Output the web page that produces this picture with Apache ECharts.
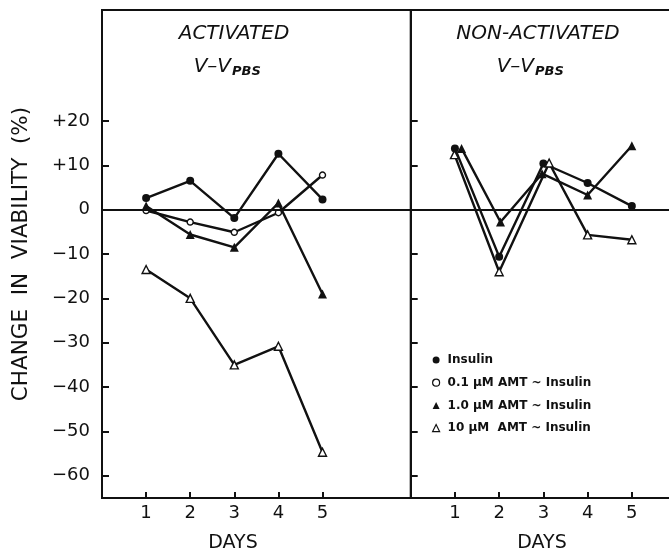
<!DOCTYPE html>
<html>
<head>
<meta charset="utf-8">
<script src="https://cdn.jsdelivr.net/npm/echarts@6/dist/echarts.min.js"></script>
<style>
html,body{margin:0;padding:0;background:#fff;}
#chart{width:669px;height:553px;}
</style>
</head>
<body>
<div id="chart"></div>
<script>
// ---- data ----
var seriesNames = ['Insulin', '0.1 \u03bcM AMT ~ Insulin', '1.0 \u03bcM AMT ~ Insulin', '10 \u03bcM  AMT ~ Insulin'];
var dayTicks = [1, 2, 3, 4, 5];
var yTicks = [-60, -50, -40, -30, -20, -10, 0, 10, 20];

// Activated panel
var actDays = [1, 2, 3, 4, 5];
var actInsulin = [2.6, 6.5, -1.9, 12.6, 2.3];
var actAmt01 = [-0.2, -2.8, -5.1, -0.7, 7.8];
var actAmt1 = [0.8, -5.6, -8.5, 1.5, -19.0];
var actAmt10 = [-13.5, -20.0, -35.0, -30.8, -54.7];

// Non-activated panel
var nonDaysInsulin = [1, 2, 3, 4, 5];
var nonInsulin = [13.8, -10.6, 10.4, 6.0, 0.8];
var nonDaysAmt1 = [1.15, 2.03, 2.97, 4, 5];
var nonAmt1 = [13.8, -2.8, 8.1, 3.3, 14.4];
var nonDaysAmt10 = [0.99, 2, 3.13, 4, 5];
var nonAmt10 = [12.4, -14.0, 10.5, -5.7, -6.8];

function pairs(xs, ys) { return xs.map(function (x, i) { return [x, ys[i]]; }); }

var FONT = 'DejaVu Sans';
var INK = '#111';

var styles = [
  { symbol: 'circle', symbolSize: 8, itemStyle: { color: INK, borderColor: INK, borderWidth: 0 } },
  { symbol: 'circle', symbolSize: 6, itemStyle: { color: '#fff', borderColor: INK, borderWidth: 1.4 } },
  { symbol: 'triangle', symbolSize: 9, itemStyle: { color: INK, borderColor: INK, borderWidth: 0 } },
  { symbol: 'triangle', symbolSize: 8, itemStyle: { color: '#fff', borderColor: INK, borderWidth: 1.4 } }
];

function mkSeries(idx, grid, data, withZero) {
  var s = {
    name: seriesNames[idx], type: 'line', xAxisIndex: grid, yAxisIndex: grid,
    data: data, symbol: styles[idx].symbol, symbolSize: styles[idx].symbolSize,
    itemStyle: styles[idx].itemStyle, lineStyle: { color: INK, width: 2.4 },
    showSymbol: true, z: 3 + idx
  };
  if (withZero) {
    s.markLine = {
      silent: true, symbol: ['none', 'none'], label: { show: false },
      lineStyle: { color: INK, width: 2, type: 'solid' },
      data: [{ yAxis: 0 }], animation: false
    };
  }
  return s;
}

var yAxisBase = function (grid, showLabels, showLine) {
  return {
    gridIndex: grid, type: 'value', min: -65, max: 45,
    axisLine: { show: showLine, onZero: false, lineStyle: { color: INK, width: 2 } },
    axisTick: { show: true, inside: true, length: 7, customValues: yTicks, lineStyle: { color: INK, width: 2 } },
    axisLabel: {
      show: showLabels, customValues: yTicks, margin: 12,
      fontFamily: FONT, fontSize: 18, color: INK,
      formatter: function (v) { return v > 0 ? '+' + v : (v < 0 ? '\u2212' + Math.abs(v) : '0'); }
    },
    splitLine: { show: false }
  };
};

var xAxisBase = function (grid, max, showLine) {
  return {
    gridIndex: grid, type: 'value', min: 0, max: max, position: 'bottom',
    axisLine: { show: showLine, onZero: false, lineStyle: { color: INK, width: 2 } },
    axisTick: { show: true, inside: true, length: 6, customValues: dayTicks, lineStyle: { color: INK, width: 2 } },
    axisLabel: { show: true, customValues: dayTicks, margin: 6, fontFamily: FONT, fontSize: 18, color: INK },
    splitLine: { show: false }
  };
};

var yLeft = yAxisBase(0, true, false);
yLeft.name = 'CHANGE  IN  VIABILITY  (%)';
yLeft.nameLocation = 'middle';
yLeft.nameRotate = 90;
yLeft.nameGap = 70;
yLeft.nameTextStyle = { fontFamily: FONT, fontSize: 21.5, color: INK };

var legendIcon = function (i) {
  return {
    name: seriesNames[i], icon: styles[i].symbol,
    itemStyle: { color: styles[i].itemStyle.color, borderColor: INK, borderWidth: styles[i].itemStyle.borderWidth ? 1.2 : 0 }
  };
};

var option = {
  animation: false,
  backgroundColor: '#fff',
  grid: [
    { left: 102, top: 10, width: 308.7, height: 488, show: true, borderColor: INK, borderWidth: 2 },
    { left: 410.7, top: 10, right: 0, height: 488, show: false }
  ],
  xAxis: [
    xAxisBase(0, 7, false),
    xAxisBase(1, 5.84, true),
    { gridIndex: 1, type: 'value', min: 0, max: 5.84, position: 'top',
      axisLine: { show: true, onZero: false, lineStyle: { color: INK, width: 2 } },
      axisTick: { show: false }, axisLabel: { show: false }, splitLine: { show: false } }
  ],
  yAxis: [yLeft, yAxisBase(1, false, true)],
  legend: {
    orient: 'vertical', left: 427, top: 348, itemWidth: 7, itemHeight: 7, itemGap: 8.7,
    selectedMode: false,
    textStyle: { fontFamily: FONT, fontSize: 12, fontWeight: 'bold', color: INK, lineHeight: 14, padding: [0, 0, 0, 3] },
    data: [legendIcon(0), legendIcon(1), legendIcon(2), legendIcon(3)]
  },
  series: [
    mkSeries(0, 0, pairs(actDays, actInsulin), true),
    mkSeries(1, 0, pairs(actDays, actAmt01), false),
    mkSeries(2, 0, pairs(actDays, actAmt1), false),
    mkSeries(3, 0, pairs(actDays, actAmt10), false),
    mkSeries(0, 1, pairs(nonDaysInsulin, nonInsulin), true),
    mkSeries(2, 1, pairs(nonDaysAmt1, nonAmt1), false),
    mkSeries(3, 1, pairs(nonDaysAmt10, nonAmt10), false)
  ],
  graphic: [
    { type: 'text', x: 234, y: 34, style: { text: 'ACTIVATED', font: 'italic 20px "DejaVu Sans"', fill: INK, textAlign: 'center', textVerticalAlign: 'middle' } },
    { type: 'text', x: 231, y: 67, style: { text: 'V\u2013V', font: 'italic 20px "DejaVu Sans"', fill: INK, textAlign: 'right', textVerticalAlign: 'middle' } },
    { type: 'text', x: 232, y: 72, style: { text: 'PBS', font: 'italic bold 13px "DejaVu Sans"', fill: INK, textAlign: 'left', textVerticalAlign: 'middle' } },
    { type: 'text', x: 538, y: 34, style: { text: 'NON-ACTIVATED', font: 'italic 20px "DejaVu Sans"', fill: INK, textAlign: 'center', textVerticalAlign: 'middle' } },
    { type: 'text', x: 534, y: 67, style: { text: 'V\u2013V', font: 'italic 20px "DejaVu Sans"', fill: INK, textAlign: 'right', textVerticalAlign: 'middle' } },
    { type: 'text', x: 535, y: 72, style: { text: 'PBS', font: 'italic bold 13px "DejaVu Sans"', fill: INK, textAlign: 'left', textVerticalAlign: 'middle' } },
    { type: 'text', x: 233, y: 543, style: { text: 'DAYS', font: '19px "DejaVu Sans"', fill: INK, textAlign: 'center', textVerticalAlign: 'middle' } },
    { type: 'text', x: 542, y: 543, style: { text: 'DAYS', font: '19px "DejaVu Sans"', fill: INK, textAlign: 'center', textVerticalAlign: 'middle' } }
  ]
};

var chart = echarts.init(document.getElementById('chart'), null, { renderer: 'canvas' });
chart.setOption(option);
</script>
</body>
</html>
